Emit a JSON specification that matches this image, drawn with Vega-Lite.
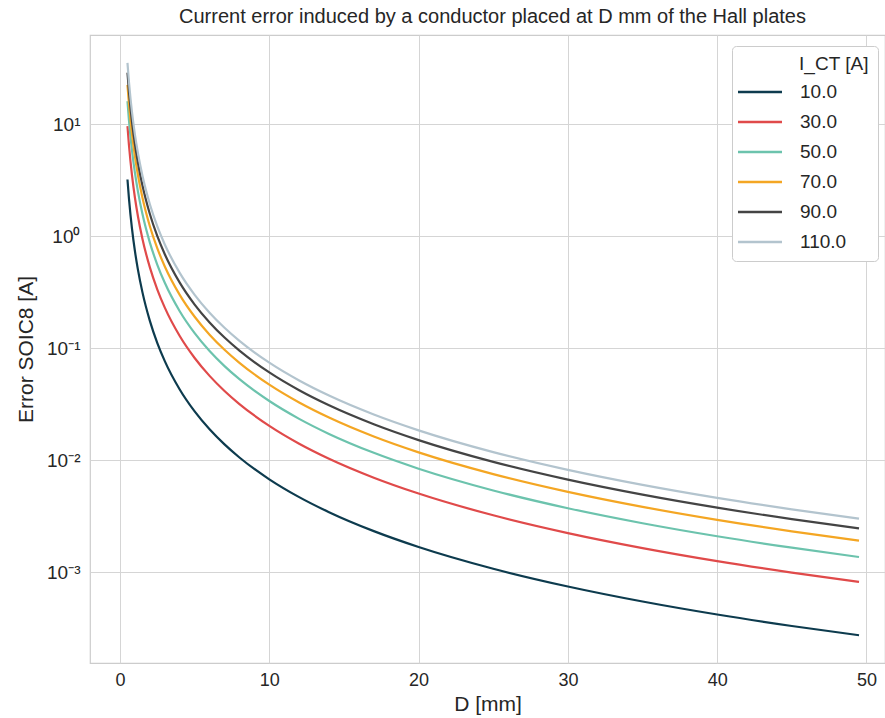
{
  "$schema": "https://vega.github.io/schema/vega-lite/v6.json",
  "width": 795,
  "height": 628,
  "autosize": {"type": "none"},
  "padding": {"left": 90, "top": 35, "right": 0, "bottom": 55},
  "background": "white",
  "config": {
    "font": "Liberation Sans",
    "view": {"stroke": "#cccccc", "strokeWidth": 1.2},
    "axis": {"domain": false, "ticks": false, "gridColor": "#d5d5d5", "gridWidth": 1, "labelColor": "#262626", "titleColor": "#262626", "labelFontSize": 18, "titleFontSize": 21, "titleFontWeight": "normal"}
  },
  "title": {"text": "Current error induced by a conductor placed at D mm of the Hall plates", "fontSize": 20, "fontWeight": "normal", "color": "#262626", "anchor": "middle", "dx": 5, "offset": 8},
  "data": {"values": [
    {"D":0.5,"I_CT":"10.0","E":3.216},{"D":0.5,"I_CT":"30.0","E":9.648},{"D":0.5,"I_CT":"50.0","E":16.08},{"D":0.5,"I_CT":"70.0","E":22.51},{"D":0.5,"I_CT":"90.0","E":28.94},{"D":0.5,"I_CT":"110.0","E":35.38},
    {"D":0.6,"I_CT":"10.0","E":2.171},{"D":0.6,"I_CT":"30.0","E":6.513},{"D":0.6,"I_CT":"50.0","E":10.86},{"D":0.6,"I_CT":"70.0","E":15.2},{"D":0.6,"I_CT":"90.0","E":19.54},{"D":0.6,"I_CT":"110.0","E":23.88},
    {"D":0.7,"I_CT":"10.0","E":1.563},{"D":0.7,"I_CT":"30.0","E":4.689},{"D":0.7,"I_CT":"50.0","E":7.815},{"D":0.7,"I_CT":"70.0","E":10.94},{"D":0.7,"I_CT":"90.0","E":14.07},{"D":0.7,"I_CT":"110.0","E":17.19},
    {"D":0.8,"I_CT":"10.0","E":1.178},{"D":0.8,"I_CT":"30.0","E":3.534},{"D":0.8,"I_CT":"50.0","E":5.89},{"D":0.8,"I_CT":"70.0","E":8.246},{"D":0.8,"I_CT":"90.0","E":10.6},{"D":0.8,"I_CT":"110.0","E":12.96},
    {"D":1.0,"I_CT":"10.0","E":0.737},{"D":1.0,"I_CT":"30.0","E":2.211},{"D":1.0,"I_CT":"50.0","E":3.685},{"D":1.0,"I_CT":"70.0","E":5.159},{"D":1.0,"I_CT":"90.0","E":6.633},{"D":1.0,"I_CT":"110.0","E":8.107},
    {"D":1.2,"I_CT":"10.0","E":0.504},{"D":1.2,"I_CT":"30.0","E":1.512},{"D":1.2,"I_CT":"50.0","E":2.52},{"D":1.2,"I_CT":"70.0","E":3.528},{"D":1.2,"I_CT":"90.0","E":4.536},{"D":1.2,"I_CT":"110.0","E":5.544},
    {"D":1.5,"I_CT":"10.0","E":0.3176},{"D":1.5,"I_CT":"30.0","E":0.9528},{"D":1.5,"I_CT":"50.0","E":1.588},{"D":1.5,"I_CT":"70.0","E":2.223},{"D":1.5,"I_CT":"90.0","E":2.858},{"D":1.5,"I_CT":"110.0","E":3.494},
    {"D":2,"I_CT":"10.0","E":0.1759},{"D":2,"I_CT":"30.0","E":0.5277},{"D":2,"I_CT":"50.0","E":0.8795},{"D":2,"I_CT":"70.0","E":1.231},{"D":2,"I_CT":"90.0","E":1.583},{"D":2,"I_CT":"110.0","E":1.935},
    {"D":2.5,"I_CT":"10.0","E":0.1115},{"D":2.5,"I_CT":"30.0","E":0.3345},{"D":2.5,"I_CT":"50.0","E":0.5575},{"D":2.5,"I_CT":"70.0","E":0.7804},{"D":2.5,"I_CT":"90.0","E":1.003},{"D":2.5,"I_CT":"110.0","E":1.226},
    {"D":3,"I_CT":"10.0","E":0.07693},{"D":3,"I_CT":"30.0","E":0.2308},{"D":3,"I_CT":"50.0","E":0.3847},{"D":3,"I_CT":"70.0","E":0.5385},{"D":3,"I_CT":"90.0","E":0.6924},{"D":3,"I_CT":"110.0","E":0.8462},
    {"D":4,"I_CT":"10.0","E":0.04292},{"D":4,"I_CT":"30.0","E":0.1288},{"D":4,"I_CT":"50.0","E":0.2146},{"D":4,"I_CT":"70.0","E":0.3004},{"D":4,"I_CT":"90.0","E":0.3863},{"D":4,"I_CT":"110.0","E":0.4721},
    {"D":5,"I_CT":"10.0","E":0.02734},{"D":5,"I_CT":"30.0","E":0.08201},{"D":5,"I_CT":"50.0","E":0.1367},{"D":5,"I_CT":"70.0","E":0.1914},{"D":5,"I_CT":"90.0","E":0.246},{"D":5,"I_CT":"110.0","E":0.3007},
    {"D":6,"I_CT":"10.0","E":0.01892},{"D":6,"I_CT":"30.0","E":0.05676},{"D":6,"I_CT":"50.0","E":0.09461},{"D":6,"I_CT":"70.0","E":0.1324},{"D":6,"I_CT":"90.0","E":0.1703},{"D":6,"I_CT":"110.0","E":0.2081},
    {"D":7,"I_CT":"10.0","E":0.01387},{"D":7,"I_CT":"30.0","E":0.04161},{"D":7,"I_CT":"50.0","E":0.06935},{"D":7,"I_CT":"70.0","E":0.09708},{"D":7,"I_CT":"90.0","E":0.1248},{"D":7,"I_CT":"110.0","E":0.1526},
    {"D":8,"I_CT":"10.0","E":0.0106},{"D":8,"I_CT":"30.0","E":0.0318},{"D":8,"I_CT":"50.0","E":0.053},{"D":8,"I_CT":"70.0","E":0.0742},{"D":8,"I_CT":"90.0","E":0.0954},{"D":8,"I_CT":"110.0","E":0.1166},
    {"D":10,"I_CT":"10.0","E":0.006767},{"D":10,"I_CT":"30.0","E":0.0203},{"D":10,"I_CT":"50.0","E":0.03384},{"D":10,"I_CT":"70.0","E":0.04737},{"D":10,"I_CT":"90.0","E":0.0609},{"D":10,"I_CT":"110.0","E":0.07444},
    {"D":12,"I_CT":"10.0","E":0.004692},{"D":12,"I_CT":"30.0","E":0.01407},{"D":12,"I_CT":"50.0","E":0.02346},{"D":12,"I_CT":"70.0","E":0.03284},{"D":12,"I_CT":"90.0","E":0.04222},{"D":12,"I_CT":"110.0","E":0.05161},
    {"D":14,"I_CT":"10.0","E":0.003443},{"D":14,"I_CT":"30.0","E":0.01033},{"D":14,"I_CT":"50.0","E":0.01721},{"D":14,"I_CT":"70.0","E":0.0241},{"D":14,"I_CT":"90.0","E":0.03098},{"D":14,"I_CT":"110.0","E":0.03787},
    {"D":17,"I_CT":"10.0","E":0.002332},{"D":17,"I_CT":"30.0","E":0.006996},{"D":17,"I_CT":"50.0","E":0.01166},{"D":17,"I_CT":"70.0","E":0.01632},{"D":17,"I_CT":"90.0","E":0.02099},{"D":17,"I_CT":"110.0","E":0.02565},
    {"D":20,"I_CT":"10.0","E":0.001683},{"D":20,"I_CT":"30.0","E":0.00505},{"D":20,"I_CT":"50.0","E":0.008417},{"D":20,"I_CT":"70.0","E":0.01178},{"D":20,"I_CT":"90.0","E":0.01515},{"D":20,"I_CT":"110.0","E":0.01852},
    {"D":25,"I_CT":"10.0","E":0.001076},{"D":25,"I_CT":"30.0","E":0.003229},{"D":25,"I_CT":"50.0","E":0.005382},{"D":25,"I_CT":"70.0","E":0.007534},{"D":25,"I_CT":"90.0","E":0.009687},{"D":25,"I_CT":"110.0","E":0.01184},
    {"D":30,"I_CT":"10.0","E":0.000747},{"D":30,"I_CT":"30.0","E":0.002241},{"D":30,"I_CT":"50.0","E":0.003735},{"D":30,"I_CT":"70.0","E":0.005228},{"D":30,"I_CT":"90.0","E":0.006722},{"D":30,"I_CT":"110.0","E":0.008216},
    {"D":35,"I_CT":"10.0","E":0.0005485},{"D":35,"I_CT":"30.0","E":0.001646},{"D":35,"I_CT":"50.0","E":0.002743},{"D":35,"I_CT":"70.0","E":0.00384},{"D":35,"I_CT":"90.0","E":0.004937},{"D":35,"I_CT":"110.0","E":0.006034},
    {"D":40,"I_CT":"10.0","E":0.0004198},{"D":40,"I_CT":"30.0","E":0.001259},{"D":40,"I_CT":"50.0","E":0.002099},{"D":40,"I_CT":"70.0","E":0.002939},{"D":40,"I_CT":"90.0","E":0.003778},{"D":40,"I_CT":"110.0","E":0.004618},
    {"D":45,"I_CT":"10.0","E":0.0003316},{"D":45,"I_CT":"30.0","E":0.0009948},{"D":45,"I_CT":"50.0","E":0.001658},{"D":45,"I_CT":"70.0","E":0.002321},{"D":45,"I_CT":"90.0","E":0.002984},{"D":45,"I_CT":"110.0","E":0.003648},
    {"D":49.5,"I_CT":"10.0","E":0.000274},{"D":49.5,"I_CT":"30.0","E":0.000822},{"D":49.5,"I_CT":"50.0","E":0.00137},{"D":49.5,"I_CT":"70.0","E":0.001918},{"D":49.5,"I_CT":"90.0","E":0.002466},{"D":49.5,"I_CT":"110.0","E":0.003014}
  ]},
  "mark": {"type": "line", "strokeWidth": 2.2, "interpolate": "monotone", "clip": true},
  "encoding": {
    "x": {"field": "D", "type": "quantitative", "scale": {"domain": [-2.01, 51.24], "nice": false, "zero": false},
      "axis": {"values": [0, 10, 20, 30, 40, 50], "title": "D [mm]", "labelPadding": 8, "titlePadding": 4}},
    "y": {"field": "E", "type": "quantitative", "scale": {"type": "log", "domain": [0.0001549, 62.8], "nice": false},
      "axis": {"values": [0.001, 0.01, 0.1, 1, 10], "title": "Error SOIC8 [A]", "labelPadding": 10, "titlePadding": 10, "labelFontSize": 19,
        "labelExpr": "datum.value > 5 ? '10¹' : datum.value > 0.5 ? '10⁰' : datum.value > 0.05 ? '10⁻¹' : datum.value > 0.005 ? '10⁻²' : '10⁻³'"}},
    "color": {"field": "I_CT", "type": "nominal",
      "scale": {"domain": ["10.0", "30.0", "50.0", "70.0", "90.0", "110.0"], "range": ["#0d3b4e", "#e04a4a", "#6cc3ad", "#f4a623", "#444444", "#b3c4ce"]},
      "legend": {"title": "\u200b\u00a0\u00a0\u00a0\u00a0\u00a0\u00a0\u00a0\u00a0\u00a0\u00a0\u00a0I_CT [A]", "orient": "none", "legendX": 642, "legendY": 11,
        "symbolType": "M-1.5,0H1.5", "symbolSize": 860, "symbolStrokeWidth": 2.5, "symbolOffset": 3, "labelOffset": 24,
        "labelFontSize": 19, "titleFontSize": 19, "titleFontWeight": "normal", "titleColor": "#262626", "labelColor": "#262626",
        "padding": 9, "rowPadding": 4, "titlePadding": 2, "strokeColor": "#cccccc", "fillColor": "white", "cornerRadius": 4}}
  }
}
